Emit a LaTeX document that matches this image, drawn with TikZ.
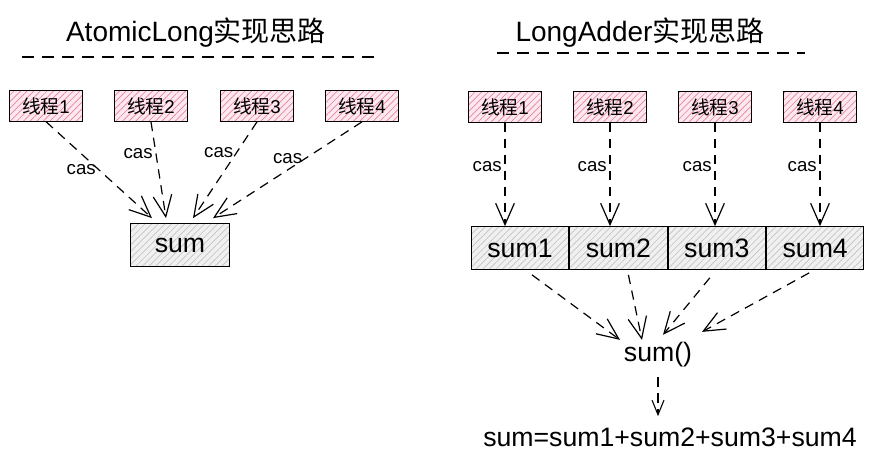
\documentclass[tikz,border=0pt]{standalone}
\usepackage{fontspec}
\setmainfont{Liberation Sans}
\newfontfamily\cjk{Noto Sans CJK SC}
\usetikzlibrary{arrows.meta,positioning,calc,patterns.meta}
\definecolor{threadbg}{RGB}{252,232,238}
\definecolor{threadhatch}{RGB}{232,130,160}
\definecolor{sumbg}{RGB}{240,240,240}
\definecolor{sumhatch}{RGB}{195,195,195}
\newcommand{\threadname}[1]{{\cjk 线程}#1}

\begin{document}
\begin{tikzpicture}[x=0.75pt,y=-0.75pt,
  thread/.style={draw=black, line width=0.8pt, preaction={fill=threadbg},
    pattern={Lines[angle=45,distance=3.5pt,line width=0.5pt]}, pattern color=threadhatch,
    minimum width=55pt, minimum height=23pt, inner sep=0pt, font=\fontsize{14}{16}\selectfont},
  cell/.style={draw=black, line width=0.8pt, preaction={fill=sumbg},
    pattern={Lines[angle=45,distance=3.5pt,line width=0.5pt]}, pattern color=sumhatch,
    minimum width=73pt, minimum height=32pt, inner sep=0pt, font=\fontsize{20}{24}\selectfont},
  casarrow/.style={line width=0.9pt, dash pattern=on 7pt off 5pt, -{Straight Barb[length=16pt,width=14pt]}},
  caslabel/.style={font=\fontsize{14}{16}\selectfont, inner sep=2pt},
  title/.style={font=\fontsize{21}{25}\selectfont},
  bigtext/.style={font=\fontsize{20}{24}\selectfont},
  seprule/.style={line width=0.9pt, dash pattern=on 9pt off 6pt}]
\useasboundingbox (0,0) rectangle (879,468);
% AtomicLong
\node[title] (titleA) at (196,33) {AtomicLong{\cjk 实现思路}};
\draw[seprule] (22,57) -- (375,57);
\foreach \i/\x in {1/46,2/151,3/257,4/362}
  \node[thread] (a\i) at (\x,106) {\threadname{\i}};
\node[cell, minimum width=74pt] (sumA) at (180,245) {sum};
% every thread does cas on the same sum
\foreach \i/\dx/\p in {1/-28/.5, 2/-14/.33, 3/13/.32, 4/33/.38}
  \draw[casarrow] (a\i.south) -- node[caslabel,pos=\p,left] {cas} ($(sumA.north)+(\dx,-5)$);
% LongAdder
\node[title] (titleB) at (640,33) {LongAdder{\cjk 实现思路}};
\draw[seprule] (497,53) -- (805,53);
\foreach \i/\x in {1/505,2/610,3/715,4/820}
  \node[thread] (b\i) at (\x,107) {\threadname{\i}};
\node[cell] (s1) at (520,248) {sum1};
\foreach \i [count=\j from 1] in {2,3,4}
  \node[cell, right=0pt of s\j] (s\i) {sum\i};
% one cell per thread
\foreach \i in {1,...,4}
  \draw[casarrow] (b\i.south) -- node[caslabel,pos=.42,left] {cas} (b\i.south |- s\i.north);
\node[bigtext] (sumfn) at (658,355) {sum()};
\foreach \i/\sx/\sy/\dx/\dy in {1/12/5/-38/2, 2/10/5/-16/2, 3/-7/8/5/-3, 4/-6/3/44/-6}
  \draw[casarrow] ($(s\i.south)+(\sx,\sy)$) -- ($(sumfn.north)+(\dx,\dy)$);
\node[bigtext] (total) at (670,437) {sum=sum1+sum2+sum3+sum4};
\draw[line width=0.8pt, dash pattern=on 7pt off 5pt, -{Straight Barb[length=11pt,width=9pt]},
  shorten <=4pt, shorten >=5pt] (sumfn.south) -- (sumfn.south |- total.north);
\end{tikzpicture}
\end{document}
